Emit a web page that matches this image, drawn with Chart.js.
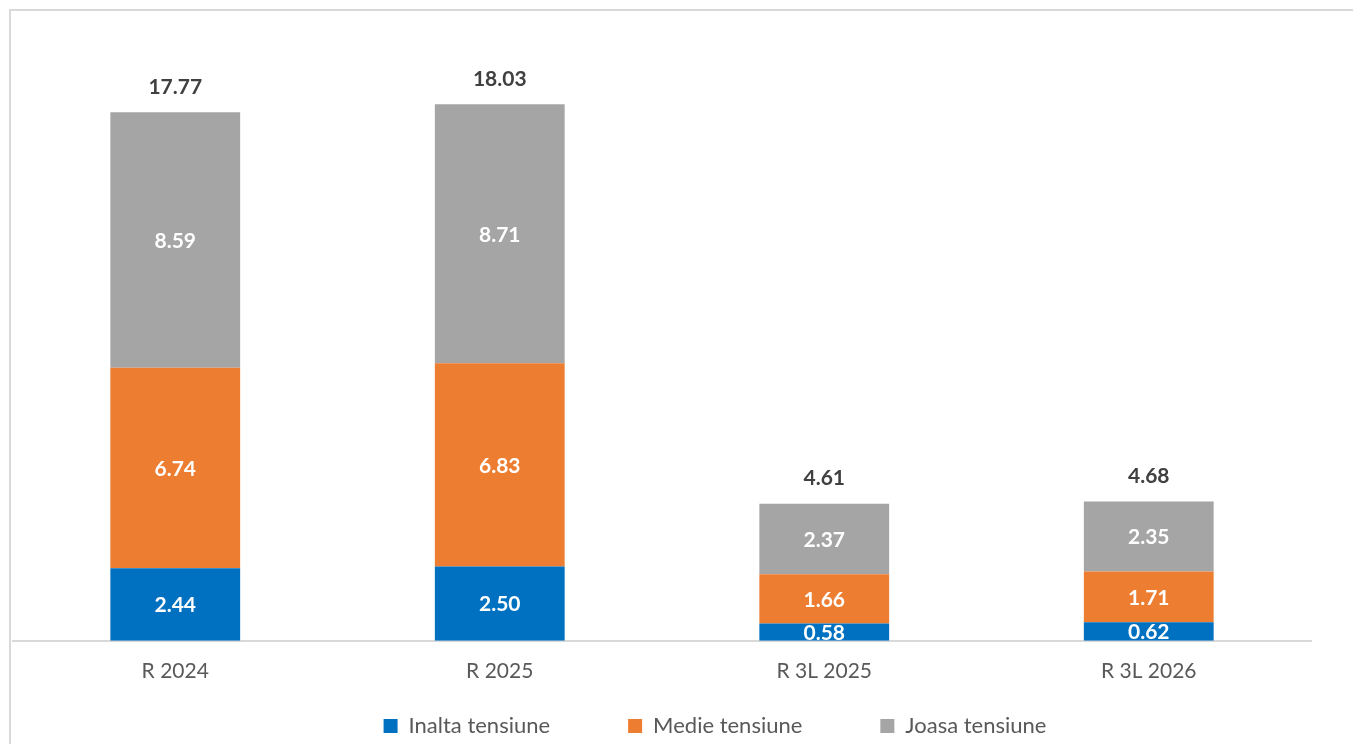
<!DOCTYPE html>
<html>
<head>
<meta charset="utf-8">
<script src="https://cdn.jsdelivr.net/npm/chart.js@4"></script>
<style>
  body { margin: 0; background: #fff; overflow: hidden; }
  #frame { position: absolute; left: 9px; top: 9px; width: 1400px; height: 800px; border: 2px solid #d9d9d9; }
  #wrap { position: absolute; left: 0; top: 0; width: 1353px; height: 744px; }
</style>
</head>
<body>
<div id="frame"></div>
<div id="wrap"><canvas id="chart"></canvas></div>
<script>
const categories = ["R 2024", "R 2025", "R 3L 2025", "R 3L 2026"];
const inalta = [2.44, 2.50, 0.58, 0.62];
const medie = [6.74, 6.83, 1.66, 1.71];
const joasa = [8.59, 8.71, 2.37, 2.35];
const totals = [17.77, 18.03, 4.61, 4.68];

const FONT = "Lato, 'Open Sans', sans-serif";
const LEGEND_SHIFT = 65;
const LEGEND_OFFSET_X = 53;

/* labels inside bars + totals on top */
const valueLabels = {
  id: "valueLabels",
  afterDatasetsDraw(chart) {
    const ctx = chart.ctx, area = chart.chartArea;
    ctx.save();
    ctx.beginPath();
    ctx.rect(area.left, area.top - 60, area.right - area.left, area.bottom - area.top + 60);
    ctx.clip();
    ctx.textAlign = "center";
    ctx.textBaseline = "middle";
    ctx.font = "bold 21px " + FONT;
    ctx.fillStyle = "#ffffff";
    chart.data.datasets.forEach((ds, i) => {
      chart.getDatasetMeta(i).data.forEach((bar, j) => {
        const mid = (bar.y + bar.base) / 2;
        ctx.fillText(ds.data[j].toFixed(2), bar.x, mid + 1);
      });
    });
    const top = chart.getDatasetMeta(chart.data.datasets.length - 1).data;
    ctx.fillStyle = "#404040";
    top.forEach((bar, j) => {
      ctx.fillText(totals[j].toFixed(2), bar.x, bar.y - 25);
    });
    ctx.restore();
  }
};

/* wide gaps between legend items without a tall legend box */
const legendSpacing = {
  id: "legendSpacing",
  afterInit(chart) {
    const lg = chart.legend;
    if (!lg) return;
    const fit = lg.fit, draw = lg.draw;
    lg.fit = function () { fit.call(this); this.height -= LEGEND_SHIFT; };
    lg.draw = function () {
      const t = this.top, l = this.left, r = this.right;
      this.top = t - LEGEND_SHIFT;
      this.left = l + LEGEND_OFFSET_X;
      this.right = r + LEGEND_OFFSET_X;
      draw.call(this);
      this.top = t; this.left = l; this.right = r;
    };
  }
};

new Chart(document.getElementById("chart"), {
  type: "bar",
  data: {
    labels: categories,
    datasets: [
      { label: "Inalta tensiune", data: inalta, backgroundColor: "#0070C0" },
      { label: "Medie tensiune", data: medie, backgroundColor: "#ED7D31" },
      { label: "Joasa tensiune", data: joasa, backgroundColor: "#A5A5A5" }
    ]
  },
  options: {
    responsive: true,
    maintainAspectRatio: false,
    animation: false,
    datasets: { bar: { categoryPercentage: 1, barPercentage: 0.4 } },
    layout: { padding: { left: 13, right: 42, top: 46, bottom: -3 } },
    plugins: {
      tooltip: { enabled: false },
      legend: {
        position: "bottom",
        labels: {
          boxWidth: 14, boxHeight: 14, padding: 78,
          color: "#595959",
          font: { family: FONT, size: 22 }
        }
      }
    },
    scales: {
      x: {
        stacked: true,
        grid: { display: false, drawTicks: false },
        border: { display: true, color: "#d9d9d9", width: 2 },
        ticks: { color: "#595959", padding: 18, font: { family: FONT, size: 21 } }
      },
      y: {
        stacked: true,
        min: 0, max: 20,
        display: false
      }
    }
  },
  plugins: [valueLabels, legendSpacing]
});
</script>
</body>
</html>
